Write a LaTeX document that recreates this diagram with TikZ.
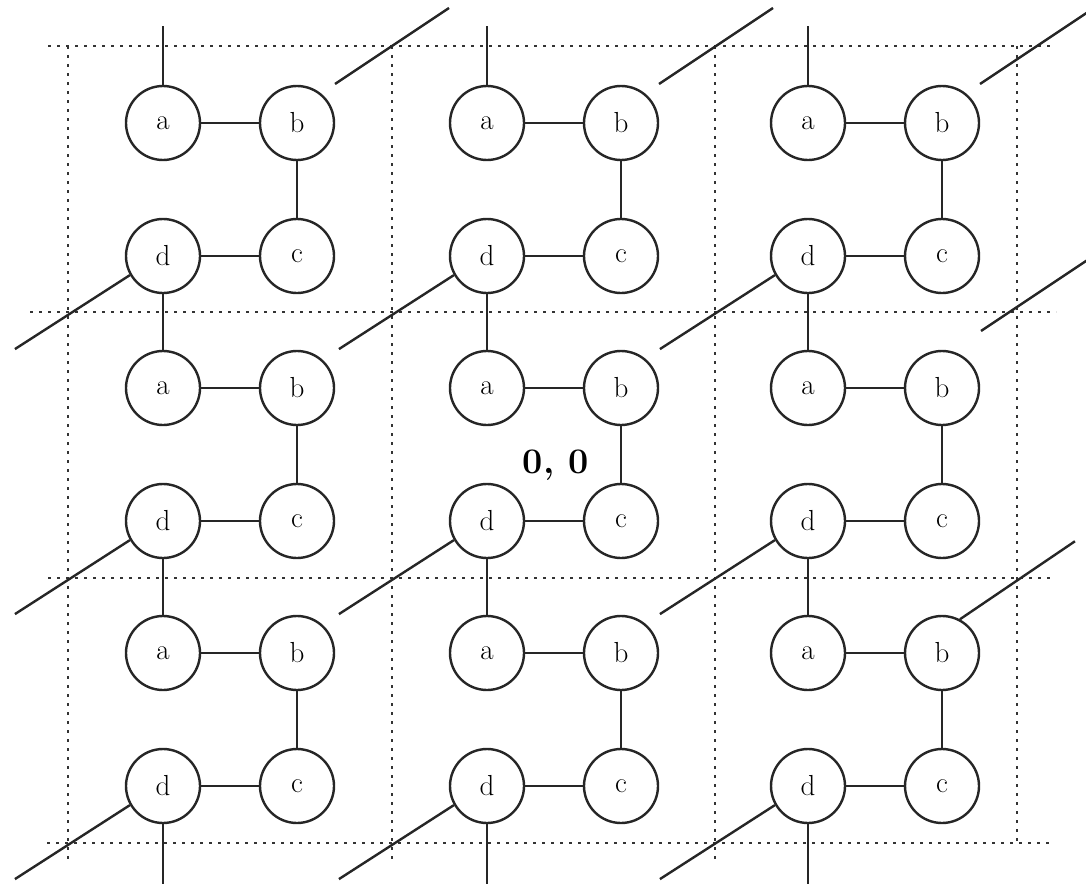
\documentclass[tikz,border=0pt]{standalone}
\usetikzlibrary{calc}
\begin{document}
\begin{tikzpicture}[x=1pt,y=-1pt,
  ink/.style={line width=2.4pt, draw=black!85},
  vertex/.style={circle, ink, minimum size=74pt, inner sep=0pt,
                 font=\fontsize{29}{31}\selectfont},
  edge/.style={ink},
  cellline/.style={line width=2.6pt, draw=black!80,
                   dash pattern=on 2.6pt off 6.4pt}]
\useasboundingbox (0,0) rectangle (1086,883);

% dotted cell boundaries
\draw[cellline] (48,46) -- (1055,46);
\draw[cellline] (30,312) -- (1056,312);
\draw[cellline] (48,578) -- (1054,578);
\draw[cellline] (47,843) -- (1052,843);
\draw[cellline] (68,46) -- (68,862);
\draw[cellline] (392,46) -- (392,862);
\draw[cellline] (715,46) -- (715,862);
\draw[cellline] (1017,46) -- (1017,843);

% the four processors of every cell
\foreach \i/\y in {0/123,1/388,2/653} {
  \foreach \j/\x in {0/163,1/487,2/808} {
    \node[vertex] (a\i\j) at (\x,\y) {a};
    \node[vertex] (b\i\j) at (\x+134,\y) {b};
    \node[vertex] (d\i\j) at (\x,\y+133) {d};
    \node[vertex] (c\i\j) at (\x+134,\y+133) {c};
  }
}

% links inside a cell
\foreach \i in {0,1,2} {
  \foreach \j in {0,1,2} {
    \draw[edge] (a\i\j) -- (b\i\j);
    \draw[edge] (b\i\j) -- (c\i\j);
    \draw[edge] (d\i\j) -- (c\i\j);
  }
}

% vertical links between cells, and the open ends at top and bottom
\foreach \j in {0,1,2} {
  \draw[edge] (d0\j) -- (a1\j);
  \draw[edge] (d1\j) -- (a2\j);
  \coordinate (top\j) at ($(a0\j.north)+(0,-59)$);
  \coordinate (bot\j) at ($(d2\j.south)+(0,62)$);
  \draw[edge] (a0\j.north) -- (top\j);
  \draw[edge] (d2\j.south) -- (bot\j);
}

% diagonal links leaving every d towards the lower left
\foreach \i in {0,1,2} {
  \foreach \j in {0,1,2} {
    \coordinate (dl\i\j) at ($(d\i\j.210)+(-115,74)$);
    \draw[edge] (d\i\j.210) -- (dl\i\j);
  }
}

% diagonal ends leaving the top row and the right column
\foreach \j in {0,1,2} {
  \coordinate (bs0\j) at ($(b0\j.45)+(11,-12)$);
  \coordinate (be0\j) at ($(bs0\j)+(114,-76)$);
  \draw[edge] (bs0\j) -- (be0\j);
}
\coordinate (bs12) at ($(b12.45)+(12,-30)$);
\coordinate (be12) at ($(bs12)+(114,-76)$);
\draw[edge] (bs12) -- (be12);
\coordinate (be22) at ($(b22.62)+(115,-78)$);
\draw[edge] (b22.62) -- (be22);

% origin label
\node[anchor=base, font=\fontsize{36}{38}\selectfont\bfseries] (origin)
  at (556,473) {0,\hspace{0.4em}0};
\end{tikzpicture}
\end{document}
